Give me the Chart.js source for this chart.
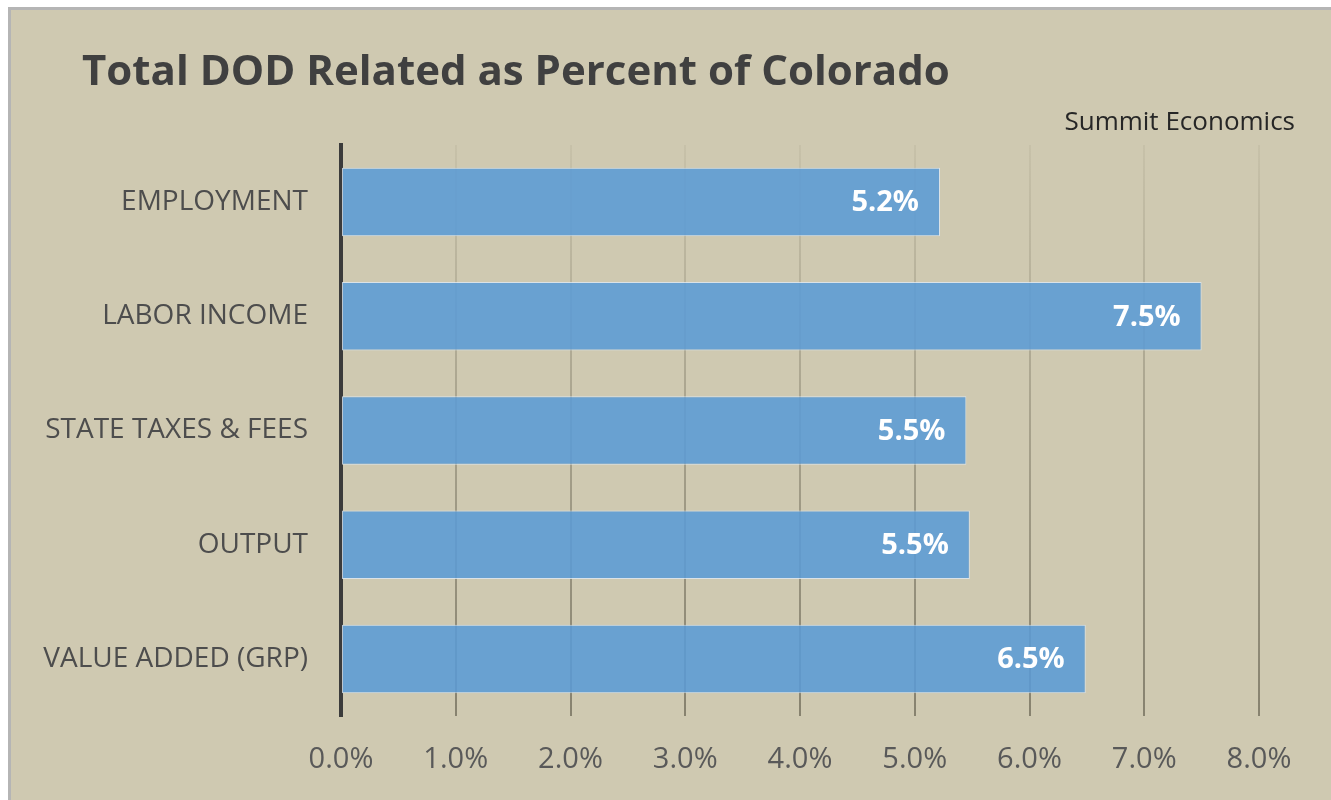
<!DOCTYPE html>
<html>
<head>
<meta charset="utf-8">
<script src="https://cdn.jsdelivr.net/npm/chart.js@4.4.1/dist/chart.umd.min.js"></script>
<style>
  html, body { margin: 0; padding: 0; background: #ffffff; }
  #box {
    position: absolute; left: 8px; top: 7px; width: 1320px; height: 793px;
    border-left: 3px solid #b5b5b5; border-top: 3px solid #b5b5b5; border-right: 3px solid #b5b5b5;
    background: #cfc9b1;
  }
  #wrap { position: absolute; left: 0; top: 0; width: 1320px; height: 790px; }
</style>
</head>
<body>
<div id="box"><div id="wrap"><canvas id="dodChart"></canvas></div></div>
<script>
// data
const categories = ['EMPLOYMENT', 'LABOR INCOME', 'STATE TAXES & FEES', 'OUTPUT', 'VALUE ADDED (GRP)'];
const percentValues = [5.22, 7.5, 5.45, 5.48, 6.49];
const valueLabels = ['5.2%', '7.5%', '5.5%', '5.5%', '6.5%'];
const tickValues = [0, 1, 2, 3, 4, 5, 6, 7, 8];

const FONT = "'Open Sans', 'DejaVu Sans', sans-serif";

// title, source note and the white value labels
const textPlugin = {
    id: 'textPlugin',
    afterDraw(chart) {
        const ctx = chart.ctx;
        ctx.save();
        ctx.textBaseline = 'alphabetic';
        ctx.fillStyle = '#404040';
        ctx.font = 'bold 42px ' + FONT;
        ctx.textAlign = 'left';
        ctx.fillText('Total DOD Related as Percent of Colorado', 71, 75);

        ctx.fillStyle = '#262626';
        ctx.font = '26px ' + FONT;
        ctx.textAlign = 'right';
        ctx.fillText('Summit Economics', 1284, 120);
        ctx.restore();
    },
    afterDatasetsDraw(chart) {
        const ctx = chart.ctx;
        const meta = chart.getDatasetMeta(0);
        ctx.save();
        ctx.fillStyle = '#ffffff';
        ctx.font = 'bold 29px ' + FONT;
        ctx.textAlign = 'right';
        ctx.textBaseline = 'middle';
        meta.data.forEach((bar, i) => {
            ctx.fillText(valueLabels[i], bar.x - 21, bar.y + 1);
        });
        ctx.restore();
    }
};

const ctx = document.getElementById('dodChart').getContext('2d');
const dodChart = new Chart(ctx, {
    type: 'bar',
    data: {
        labels: categories,
        datasets: [{
            data: percentValues,
            backgroundColor: 'rgba(91, 155, 213, 0.88)',
            borderColor: 'rgba(220, 232, 245, 0.8)',
            borderWidth: 1,
            borderSkipped: false,
            barPercentage: 0.6,
            categoryPercentage: 1.0
        }]
    },
    options: {
        indexAxis: 'y',
        responsive: true,
        maintainAspectRatio: false,
        animation: false,
        layout: {
            padding: { top: 135, right: 72, bottom: 0, left: 0 }
        },
        plugins: {
            legend: { display: false },
            tooltip: { enabled: false }
        },
        scales: {
            x: {
                min: 0,
                max: 8,
                afterBuildTicks(scale) {
                    scale.ticks = tickValues.map(v => ({ value: v }));
                },
                afterFit(scale) {
                    scale.height = 84;
                },
                ticks: {
                    padding: 26,
                    color: '#595959',
                    font: { family: FONT, size: 29 },
                    maxRotation: 0,
                    callback: (v) => Number(v).toFixed(1) + '%'
                },
                grid: {
                    drawTicks: false,
                    lineWidth: 2,
                    color(context) {
                        const area = context.chart.chartArea;
                        if (!area) return '#a09a88';
                        const g = context.chart.ctx.createLinearGradient(0, area.top, 0, area.bottom);
                        g.addColorStop(0, '#c7c1a9');
                        g.addColorStop(1, '#87826f');
                        return g;
                    }
                },
                border: { display: false }
            },
            y: {
                afterFit(scale) {
                    scale.width = 330;
                },
                ticks: {
                    padding: 33,
                    color: '#4d4d4d',
                    font: { family: FONT, size: 28 }
                },
                grid: { display: false, drawTicks: false },
                border: { display: true, color: '#3b3b3b', width: 4 }
            }
        }
    },
    plugins: [textPlugin]
});
</script>
</body>
</html>
